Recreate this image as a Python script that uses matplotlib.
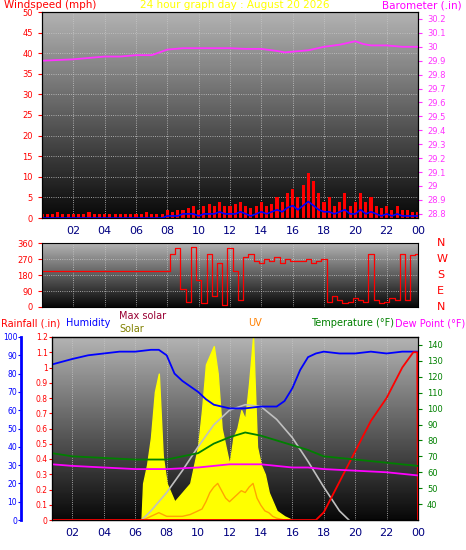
import numpy as np
import matplotlib
matplotlib.use("Agg")
import matplotlib.pyplot as plt

# ---------------- data ----------------
hours20 = [i/3 for i in range(73)]
gust = [1,1,1,1.5,1,1,1,1,1,1.5,1,1,1,1,1,1,1,1,1,1,1.5,1,1,1,
        2,1.5,2,2,2.5,3,2,3,3.5,3,4,3,3,3.5,4,3,2.5,3,4,3,3.5,
        5,4,6,7,5,8,11,9,6,4,5,3,4,6,3,4,6,4,5,3,2.5,3,2,3,2,2,1.5,1.5]
avgw = [0,0,0,0,0,0,0,0,0,0,0,0,0,0,0,0,0,0,0,0,0,0,0,0,
        0.5,0.5,0.5,1,1,1,0.5,1,1,1,1.5,1,1,1,1.5,1,0.5,1,1.5,1,1.5,
        2,1.5,2.5,3,2,3,4,3,2,1.5,1.5,1,1.5,2,1,1,2,1,1.5,1,0.5,1,0.5,1,0.5,0.5,0.5,0.5]
baro_h = [0,1,2,3,4,5,6,7,8,9,10,11,12,13,14,15,15.5,16,17,18,19,20,20.5,21,22,23,24]
baro = [29.90,29.905,29.91,29.92,29.93,29.93,29.94,29.94,29.98,29.99,29.99,29.99,29.99,29.985,29.985,29.97,29.96,29.965,29.975,30.0,30.015,30.04,30.02,30.01,30.01,30.0,30.0]
wdir = [200]*25 + [300,330,100,30,340,150,20,300,60,250,10,330,200,40,280,300,260,250,270,260,280,250,270,260,260,
        260,270,250,260,270,30,60,40,20,30,50,40,30,300,40,20,30,50,40,300,40,290,300]
hum_h = [0.7,2,3,4,5,6,7,7.5,8,8.5,9,10,10.5,11,12,13,14,15,15.5,16,16.5,17,17.5,18,19,20,21,22,23,24]
hum = [85,88,90,91,92,92,93,93,90,80,76,70,66,63,61,61,62,62,65,72,82,89,91,92,91,91,92,91,92,92]
temp_h = [0.7,2,4,6,8,10,11,12,13,14,15,16,17,18,20,22,24]
temp = [72,70,69,68,68,72,78,82,85,83,80,77,74,70,68,66,64]
dew = [65,64,63,62,62,63,64,65,65,65,64,63,63,62,61,60,58]
rain_h = [0.7,17.5,18,19,20,21,22,23,23.7,23.95,24]
rain = [0,0,0.05,0.25,0.45,0.65,0.8,1.0,1.1,1.1,0]
sol_h = [6.4,6.5,6.75,7,7.25,7.5,7.75,8,8.5,9,9.5,10,10.25,10.5,10.75,11,11.25,11.5,11.75,12,12.25,12.5,12.75,13,13.25,13.5,13.75,14,14.25,14.5,14.75,15,15.5,16]
solar = [0,20,30,45,70,80,35,20,10,15,20,40,60,85,90,95,80,50,40,30,45,50,60,55,75,100,40,30,25,15,10,5,2,0]
uv = [0,0,1,2,3,4,3,2,2,2,3,5,6,10,15,18,20,16,12,10,12,14,16,15,18,20,12,8,5,4,2,1,0,0]
maxsol_h = [6.4,7,8,9,10,11,12,13,14,15,16,17,18,19,19.6]
maxsol = [0,5,15,27,40,52,60,63,62,55,45,32,18,5,0]
xt = ["02","04","06","08","10","12","14","16","18","20","22","00"]

# ---------------- figure ----------------
fig = plt.figure(figsize=(4.66,5.5), dpi=100)
fig.patch.set_facecolor("white")
W,H = 466,550
def ax_at(x0,y0,x1,y1):
    return fig.add_axes([x0/W, 1-y1/H, (x1-x0)/W, (y1-y0)/H])
grad = np.linspace(0,1,100).reshape(-1,1)
def bg(ax):
    ax.imshow(grad, aspect="auto", cmap="gray", vmin=-0.05, vmax=1.45,
              extent=[0,1,0,1], transform=ax.transAxes, zorder=0, origin="lower")
    ax.grid(True, color="#c8c8c8", ls=":", lw=0.6)
def xfmt(ax, xmin, labels=True):
    ax.set_xlim(xmin,24)
    ax.set_xticks(range(2,25,2))
    ax.set_xticklabels(xt if labels else [], fontsize=8, color="#000080")
    ax.tick_params(axis="x", length=0, pad=6)

# panel 1
a1 = ax_at(42,12,418,218)
bg(a1)
a1.bar(hours20, gust, width=0.2, color="red", zorder=2)
a1.plot(hours20, avgw, color="blue", lw=1.2, zorder=3)
a1.set_ylim(0,50); a1.set_yticks(range(0,51,5))
a1.tick_params(axis="y", colors="red", labelsize=6, length=3)
xfmt(a1, 0)
b1 = a1.twinx()
b1.plot(baro_h, baro, color="#ff33ff", lw=1.3)
bt = np.round(np.arange(28.8,30.25,0.1),1)
b1.set_ylim(28.77,30.25); b1.set_yticks(bt)
b1.set_yticklabels([f"{v:g}" for v in bt])
b1.tick_params(axis="y", colors="#ff33ff", labelsize=6, length=3)
fig.text(4/W,1-5/H,"Windspeed (mph)",color="red",fontsize=7.5,va="center")
fig.text(235/W,1-5/H,"24 hour graph day : August 20 2026",color="yellow",fontsize=7.5,va="center",ha="center")
fig.text(462/W,1-5/H,"Barometer (.in)",color="#ff00ff",fontsize=7.5,va="center",ha="right")

# panel 2
a2 = ax_at(42,243,418,307)
bg(a2)
a2.step(hours20, wdir, where="mid", color="red", lw=0.9)
a2.set_ylim(0,360); a2.set_yticks([0,90,180,270,360])
a2.tick_params(axis="y", colors="red", labelsize=6, length=3)
xfmt(a2, 0, labels=False)
for v,l in zip([0,90,180,270,360],["N","E","S","W","N"]):
    a2.text(1.05, v/360, l, transform=a2.transAxes, color="red", fontsize=8, va="center")

# panel 3
a3 = ax_at(52,337,418,520)
bg(a3)
a3.fill_between(sol_h, solar, color="yellow", zorder=2)
a3.plot(maxsol_h, maxsol, color="#c0c0c0", lw=1.2, zorder=3)
a3.plot(sol_h, uv, color="orange", lw=1, zorder=3)
a3.plot(hum_h, hum, color="blue", lw=1.3, zorder=4)
a3.set_ylim(0,100); a3.set_yticks([])
xfmt(a3, 0.7)
hum_ax = a3.twinx()
hum_ax.spines["left"].set_position(("outward",22)); hum_ax.spines["left"].set_color("blue")
hum_ax.spines["left"].set_linewidth(2)
hum_ax.yaxis.set_ticks_position("left"); hum_ax.yaxis.set_label_position("left")
hum_ax.set_ylim(0,100); hum_ax.set_yticks(range(0,101,10))
hum_ax.tick_params(axis="y", colors="blue", labelsize=5.5, length=2, pad=1)
hum_ax.spines["right"].set_visible(False)
r3 = a3.twinx()
r3.yaxis.set_ticks_position("left")
r3.plot(rain_h, rain, color="red", lw=1.3, zorder=5)
rt = np.round(np.arange(0,1.21,0.1),1)
r3.set_ylim(0,1.2); r3.set_yticks(rt)
r3.set_yticklabels([f"{v:g}" for v in rt])
r3.tick_params(axis="y", colors="red", labelsize=5.5, length=2, pad=1)
r3.spines["right"].set_visible(False)
t3 = a3.twinx()
t3.plot(temp_h, temp, color="#008000", lw=1.3)
t3.plot(temp_h, dew, color="#ff00ff", lw=1.3)
t3.set_ylim(30,145); t3.set_yticks(range(40,141,10))
t3.tick_params(axis="y", colors="#008000", labelsize=6, length=3)
fig.text(1/W,1-323/H,"Rainfall (.in)",color="red",fontsize=7,va="center")
fig.text(66/W,1-323/H,"Humidity",color="blue",fontsize=7,va="center")
fig.text(119/W,1-316/H,"Max solar",color="#990033",fontsize=7,va="center")
fig.text(119/W,1-329/H,"Solar",color="#808000",fontsize=7,va="center")
fig.text(255/W,1-323/H,"UV",color="#ff8000",fontsize=7,va="center",ha="center")
fig.text(311/W,1-323/H,"Temperature (°F)",color="#008000",fontsize=7,va="center")
fig.text(465/W,1-323/H,"Dew Point (°F)",color="#ff00ff",fontsize=7,va="center",ha="right")

fig.savefig("out.png", dpi=100, facecolor="white")
